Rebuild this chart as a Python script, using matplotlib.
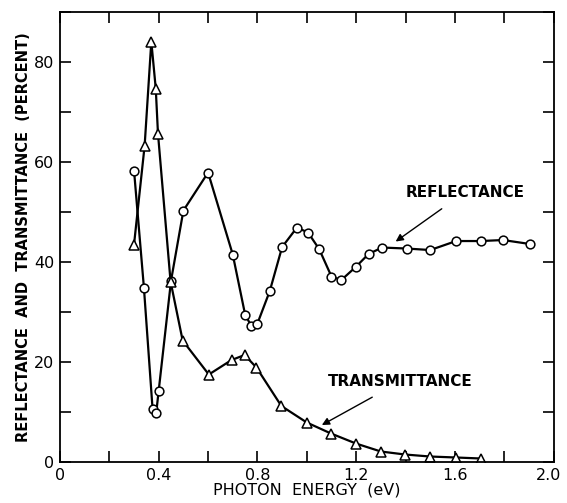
import numpy as np
import matplotlib
matplotlib.use("Agg")
import matplotlib.pyplot as plt
from matplotlib.transforms import ScaledTranslation

## Datos leidos de la figura
# reflectancia (circulos)
e_refl = [0.30, 0.34, 0.375, 0.39, 0.40, 0.45, 0.50, 0.60, 0.70, 0.75, 0.775, 0.80,
          0.85, 0.90, 0.96, 1.005, 1.05, 1.10, 1.14, 1.20, 1.25, 1.305, 1.405, 1.50,
          1.605, 1.705, 1.795, 1.905]
r_refl = [58.3, 34.9, 10.7, 9.9, 14.3, 36.3, 50.3, 57.9, 41.5, 29.5, 27.2, 27.7,
          34.2, 43.0, 46.9, 45.9, 42.6, 37.1, 36.4, 39.1, 41.6, 42.9, 42.7, 42.4,
          44.2, 44.2, 44.4, 43.6]

# transmitancia (triangulos)
e_trans = [0.30, 0.343, 0.37, 0.388, 0.397, 0.448, 0.497, 0.603, 0.695, 0.748, 0.796,
           0.897, 1.0, 1.098, 1.199, 1.30, 1.398, 1.499, 1.605, 1.706]
t_trans = [43.5, 63.3, 84.1, 74.7, 65.7, 36.1, 24.3, 17.5, 20.4, 21.4, 18.9,
           11.2, 7.9, 5.7, 3.7, 2.1, 1.5, 1.1, 0.9, 0.7]

x_ticks = np.arange(0, 2.01, 0.2)
x_labels = ['0', '', '0.4', '', '0.8', '', '1.2', '', '1.6', '', '2.0']
y_ticks = np.arange(0, 91, 10)
y_labels = ['0', '', '20', '', '40', '', '60', '', '80', '']

## Grafica
fig = plt.figure(figsize=(5.67, 5.03), dpi=100)
ax = fig.add_axes([0.1058, 0.0815, 0.8706, 0.8945])

ax.plot(e_refl, r_refl, color='black', lw=1.6, marker='o', markersize=6.3,
        markerfacecolor='white', markeredgecolor='black', markeredgewidth=1.1)
ax.plot(e_trans, t_trans, color='black', lw=1.6, marker='^', markersize=7.5,
        markerfacecolor='white', markeredgecolor='black', markeredgewidth=1.1)

ax.set_xlim(0, 2.0)
ax.set_ylim(0, 90)
ax.set_xticks(x_ticks)
ax.set_xticklabels(x_labels, fontsize=11.5)
ax.set_yticks(y_ticks)
ax.set_yticklabels(y_labels, fontsize=11.5)
ax.tick_params(direction='in', length=8, width=1.2, top=True, right=True, pad=4)
for s in ax.spines.values():
    s.set_linewidth(1.3)

# el "2.0" queda un poco a la izquierda del borde, como en el original
ultimo = ax.get_xticklabels()[-1]
ultimo.set_transform(ultimo.get_transform() + ScaledTranslation(-5/100, 0, fig.dpi_scale_trans))

ax.set_xlabel('PHOTON  ENERGY  (eV)', fontsize=11.5, labelpad=0)
ax.set_ylabel('REFLECTANCE  AND  TRANSMITTANCE  (PERCENT)', fontsize=10.5,
              fontweight='bold', labelpad=2)

ax.annotate('REFLECTANCE', xy=(1.36, 44.1), xytext=(1.642, 54),
            ha='center', va='center', fontsize=11, fontweight='bold',
            arrowprops=dict(arrowstyle='-|>', color='black', lw=1.0, shrinkA=8, shrinkB=0))
ax.annotate('TRANSMITTANCE', xy=(1.061, 7.4), xytext=(1.38, 16.1),
            ha='center', va='center', fontsize=11, fontweight='bold',
            arrowprops=dict(arrowstyle='-|>', color='black', lw=1.0, shrinkA=8, shrinkB=0))

fig.savefig('out.png', dpi=100)
